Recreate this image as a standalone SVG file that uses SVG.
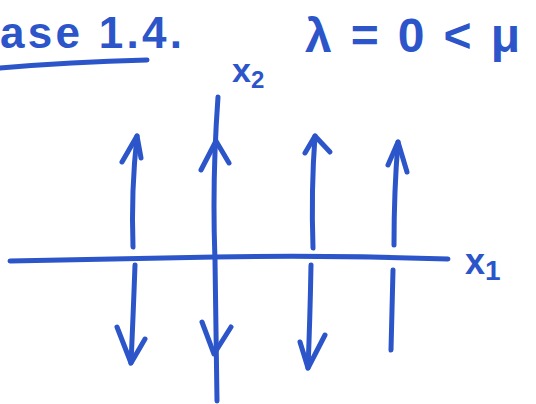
<svg xmlns="http://www.w3.org/2000/svg" width="536" height="404" viewBox="0 0 536 404">
  <style>
    .ink { fill: none; stroke: #2b55c9; stroke-width: 5; stroke-linecap: round; stroke-linejoin: round; }
    .txt { fill: #2b55c9; font-family: "Liberation Sans", "DejaVu Sans", sans-serif; font-weight: bold; }
  </style>
  <rect width="536" height="404" fill="#ffffff"/>

  <!-- heading -->
  <g id="title">
    <text class="txt" x="0" y="48" font-size="44" textLength="182" lengthAdjust="spacing">ase 1.4.</text>
    <path class="ink" d="M0 68 Q70 62 147 60"/>
    <text class="txt" x="305" y="52" font-size="48" textLength="215" lengthAdjust="spacing">λ=0&lt;μ</text>
  </g>

  <!-- coordinate axes -->
  <g id="axes">
    <path class="ink" d="M10 261 Q100 259 215 257 Q330 255 448 259"/>
    <path class="ink" d="M218 97 Q212 180 215 260 Q216 330 217 401"/>
    <text class="txt" x="232" y="82" font-size="34">x<tspan font-size="24" dy="6">2</tspan></text>
    <text class="txt" x="465" y="274" font-size="36">x<tspan font-size="28" dy="6">1</tspan></text>
  </g>

  <!-- flow lines above the axis (upward) -->
  <g id="flow-up">
    <path class="ink" d="M133 247 Q131 190 137 136"/>
    <path class="ink" d="M122 162 L137 136 L141 158"/>
    <path class="ink" d="M201 170 L216 141 L229 163"/>
    <path class="ink" d="M313 248 Q311 190 315 136"/>
    <path class="ink" d="M305 153 L315 136 L330 152"/>
    <path class="ink" d="M394 245 Q394 190 398 142"/>
    <path class="ink" d="M388 165 L398 142 L407 172"/>
  </g>

  <!-- flow lines below the axis (downward) -->
  <g id="flow-down">
    <path class="ink" d="M135 265 Q133 320 131 363"/>
    <path class="ink" d="M117 327 L131 363 L145 339"/>
    <path class="ink" d="M202 322 L214 354 L231 327"/>
    <path class="ink" d="M311 265 Q310 320 308 368"/>
    <path class="ink" d="M300 342 L308 368 L325 335"/>
    <path class="ink" d="M393 270 Q392 310 391 350"/>
  </g>
</svg>
